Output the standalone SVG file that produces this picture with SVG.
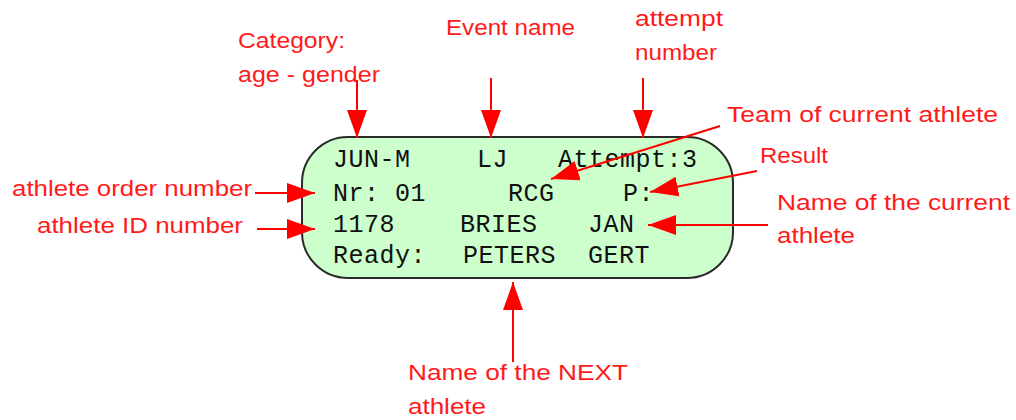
<svg xmlns="http://www.w3.org/2000/svg" width="1016" height="420" viewBox="0 0 1016 420">
<style>
.lbl{font-family:"Liberation Sans","DejaVu Sans",sans-serif;font-size:22px;fill:#ff1a1a}
.mono{font-family:"Liberation Mono","DejaVu Sans Mono",monospace;font-size:25px;fill:#111;letter-spacing:0.5px}
.conn{stroke:#ff0000;stroke-width:2;fill:none;marker-end:url(#ah)}
</style>
<defs>
<marker id="ah" markerUnits="userSpaceOnUse" markerWidth="28" markerHeight="20" refX="28" refY="10" orient="auto">
<path d="M0,0 L28,10 L0,20 z" fill="#ff0000"/>
</marker>
</defs>
<rect width="1016" height="420" fill="#ffffff"/>
<g id="display">
<rect x="302" y="137" width="431" height="141" rx="46" ry="46" fill="#ccffcc" stroke="#2a2a2a" stroke-width="2"/>
<text class="mono" x="333" y="167">JUN-M</text>
<text class="mono" x="477" y="167">LJ</text>
<text class="mono" x="558" y="167">Attempt:3</text>
<text class="mono" x="333" y="201">Nr: 01</text>
<text class="mono" x="508" y="201">RCG</text>
<text class="mono" x="623" y="201">P:</text>
<text class="mono" x="333" y="232">1178</text>
<text class="mono" x="460" y="232">BRIES</text>
<text class="mono" x="588" y="232">JAN</text>
<text class="mono" x="333" y="263">Ready:</text>
<text class="mono" x="463" y="263">PETERS</text>
<text class="mono" x="588" y="263">GERT</text>
</g>
<g id="label-category">
<text class="lbl" x="238" y="48" textLength="107" lengthAdjust="spacingAndGlyphs">Category:</text>
<text class="lbl" x="238" y="82" textLength="142" lengthAdjust="spacingAndGlyphs">age - gender</text>
</g>
<g id="label-event">
<text class="lbl" x="446" y="35" textLength="129" lengthAdjust="spacingAndGlyphs">Event name</text>
</g>
<g id="label-attempt">
<text class="lbl" x="635" y="26" textLength="88" lengthAdjust="spacingAndGlyphs">attempt</text>
<text class="lbl" x="635" y="60" textLength="82" lengthAdjust="spacingAndGlyphs">number</text>
</g>
<g id="label-team">
<text class="lbl" x="727" y="122" textLength="271" lengthAdjust="spacingAndGlyphs">Team of current athlete</text>
</g>
<g id="label-result">
<text class="lbl" x="760" y="163" textLength="68" lengthAdjust="spacingAndGlyphs">Result</text>
</g>
<g id="label-current">
<text class="lbl" x="777" y="210" textLength="233" lengthAdjust="spacingAndGlyphs">Name of the current</text>
<text class="lbl" x="777" y="243" textLength="78" lengthAdjust="spacingAndGlyphs">athlete</text>
</g>
<g id="label-order">
<text class="lbl" x="12" y="196" textLength="240" lengthAdjust="spacingAndGlyphs">athlete order number</text>
</g>
<g id="label-id">
<text class="lbl" x="37" y="233" textLength="206" lengthAdjust="spacingAndGlyphs">athlete ID number</text>
</g>
<g id="label-next">
<text class="lbl" x="408" y="380" textLength="220" lengthAdjust="spacingAndGlyphs">Name of the NEXT</text>
<text class="lbl" x="408" y="414" textLength="78" lengthAdjust="spacingAndGlyphs">athlete</text>
</g>
<g id="connectors">
<line class="conn" x1="357" y1="80" x2="357" y2="138"/>
<line class="conn" x1="491" y1="78" x2="491" y2="138"/>
<line class="conn" x1="643" y1="78" x2="643" y2="138"/>
<line class="conn" x1="720" y1="126" x2="551" y2="179"/>
<line class="conn" x1="757" y1="171" x2="650" y2="192"/>
<line class="conn" x1="768" y1="225" x2="648" y2="225"/>
<line class="conn" x1="255" y1="193" x2="315" y2="193"/>
<line class="conn" x1="257" y1="229" x2="315" y2="229"/>
<line class="conn" x1="513" y1="362" x2="513" y2="282"/>
</g>
</svg>
